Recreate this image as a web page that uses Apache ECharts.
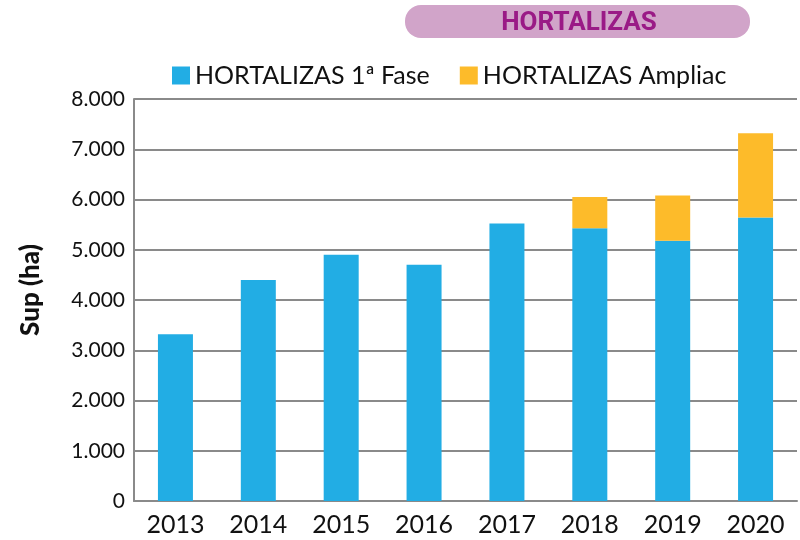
<!DOCTYPE html>
<html>
<head>
<meta charset="utf-8">
<script src="https://cdn.jsdelivr.net/npm/echarts@6/dist/echarts.min.js"></script>
<style>
  html, body { margin: 0; padding: 0; background: #fff; }
  #chart { width: 800px; height: 540px; }
</style>
</head>
<body>
<div id="chart"></div>
<script>
// años
const years = ["2013", "2014", "2015", "2016", "2017", "2018", "2019", "2020"];
// superficie 1ª fase (ha)
const fase1 = [3320, 4400, 4900, 4700, 5520, 5430, 5180, 5640];
// superficie ampliación (ha)
const ampliac = [0, 0, 0, 0, 0, 620, 900, 1680];
const seriesNames = ["HORTALIZAS 1ª Fase", "HORTALIZAS Ampliac"];
const titleText = "HORTALIZAS";

const chart = echarts.init(document.getElementById("chart"));

const fontFam = "Lato, 'Noto Sans', sans-serif";

const option = {
  animation: false,
  color: ["#22ade4", "#fdbb2a"],
  graphic: [
    {
      type: "group",
      left: 405,
      top: 5,
      children: [
        {
          type: "rect",
          shape: { x: 0, y: 0, width: 345, height: 33, r: 16 },
          style: { fill: "#d1a4c9" },
        },
        {
          type: "text",
          x: 174,
          y: 18,
          style: {
            text: titleText,
            fill: "#9a1a86",
            font: "bold 26px 'Roboto', sans-serif",
            align: "center",
            verticalAlign: "middle",
          },
        },
      ],
    },
  ],
  legend: {
    top: 58,
    left: 167,
    itemWidth: 18,
    itemHeight: 18,
    itemGap: 30,
    icon: "rect",
    textStyle: { fontSize: 25, color: "#111", fontFamily: fontFam },
    data: seriesNames,
  },
  grid: {
    left: 134,
    right: 3,
    top: 99,
    bottom: 39,
  },
  xAxis: {
    type: "category",
    data: years,
    axisLine: { lineStyle: { color: "#8a8a8a", width: 2 } },
    axisTick: { show: false },
    axisLabel: { fontSize: 25, color: "#111", fontFamily: fontFam, margin: 11 },
  },
  yAxis: {
    type: "value",
    min: 0,
    max: 8000,
    interval: 1000,
    name: "Sup (ha)",
    nameLocation: "middle",
    nameGap: 90,
    nameTextStyle: { fontSize: 26, fontWeight: 900, color: "#111", fontFamily: fontFam, padding: [0, 0, 0, 20] },
    axisLine: { show: true, lineStyle: { color: "#8a8a8a", width: 2 } },
    axisTick: { show: false },
    splitLine: { lineStyle: { color: "#8a8a8a", width: 2 } },
    axisLabel: {
      fontSize: 21,
      color: "#111",
      fontFamily: fontFam,
      margin: 9,
      formatter: (v) => (v === 0 ? "0" : (v / 1000).toFixed(3)),
    },
  },
  series: [
    {
      name: seriesNames[0],
      type: "bar",
      stack: "total",
      barWidth: 35,
      data: fase1,
    },
    {
      name: seriesNames[1],
      type: "bar",
      stack: "total",
      barWidth: 35,
      data: ampliac.map((v) => (v === 0 ? null : v)),
    },
  ],
};

chart.setOption(option);
</script>
</body>
</html>
